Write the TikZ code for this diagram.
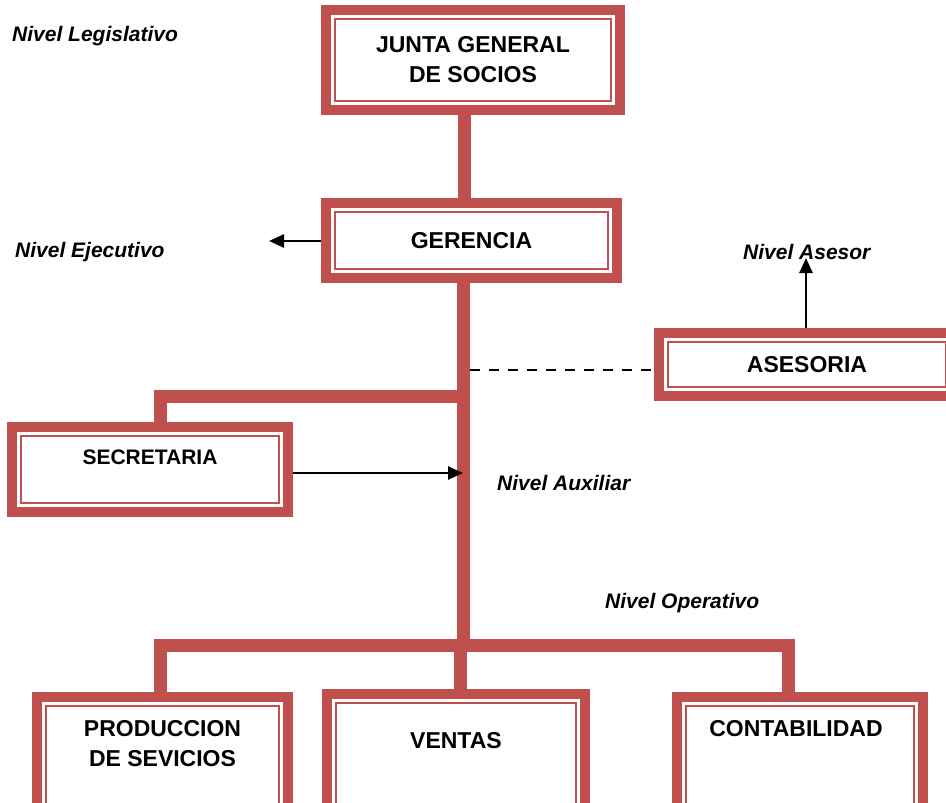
\documentclass[tikz,border=0pt]{standalone}
\usepackage{fontspec}
\setmainfont{Liberation Sans}
\usepackage{tikz}
\usetikzlibrary{arrows.meta,calc,positioning}
\definecolor{boxred}{RGB}{192,80,77}

\begin{document}
\begin{tikzpicture}[x=1pt,y=-1pt,
    box/.style={draw=boxred,line width=9.5pt,fill=white,inner sep=0pt,align=center,
      font=\fontsize{23}{30}\selectfont\bfseries},
    boxtext/.style={inner sep=0pt,align=center,font=\fontsize{23}{30}\selectfont\bfseries},
    inline/.style={draw=boxred,line width=2pt},
    trunk/.style={draw=boxred,line width=13pt},
    nivel/.style={anchor=west,inner sep=0pt,font=\fontsize{21}{25}\selectfont\bfseries\itshape},
    flecha/.style={line width=2.6pt,-{Triangle[length=15pt,width=13pt]}}]
    \useasboundingbox (0,0) rectangle (946,803);
    % cajas
    \node[box,minimum width=294,minimum height=100] (junta) at (473,60) {JUNTA GENERAL\\DE SOCIOS};
    \node[box,minimum width=291,minimum height=75] (ger) at (471.5,240.5) {GERENCIA};
    \node[box,minimum width=296,minimum height=63] (ases) at (807,364.5) {ASESORIA};
    \node[box,minimum width=276,minimum height=85,
      label={[boxtext,yshift=12.5pt,font=\fontsize{21}{25}\selectfont\bfseries]center:SECRETARIA}] (sec) at (150,469.5) {};
    \node[box,minimum width=251,minimum height=118,
      label={[boxtext,yshift=12pt]center:PRODUCCION\\DE SEVICIOS}] (prod) at (162.5,756) {};
    \node[box,minimum width=258,minimum height=121,
      label={[boxtext,yshift=14pt]center:VENTAS}] (ven) at (456,754.5) {};
    \node[box,minimum width=246,minimum height=118,
      label={[boxtext,yshift=27pt,xshift=-4pt]center:CONTABILIDAD}] (cont) at (800,756) {};
    \foreach \n in {junta,ger,ases,sec,prod,ven,cont}
      \draw[inline] ([shift={(13.5pt,-13.5pt)}]\n.north west) rectangle ([shift={(-13.5pt,13.5pt)}]\n.south east);
    % lineas
    \coordinate (t) at (464,0);
    \coordinate (barra) at (463.5,645);
    \draw[trunk] (junta.south -| t) -- (ger.north -| t);
    \draw[trunk] (ger.south -| barra) -- (barra);
    \draw[trunk,line join=miter] (463.5,396.5) -- (160,396.5) -- (sec.north -| 160,0);
    \draw[trunk,line join=miter] (prod.north -| 160,0) -- (160,645) -- (788,645) -- (cont.north -| 788,0);
    \draw[trunk] (460,645) -- (ven.north -| 460,0);
    \draw[line width=2.4pt,dash pattern=on 10pt off 9pt] (470,370) -- (ases.west |- 0,370);
    % flechas
    \coordinate (ejec) at (269,241);
    \coordinate (asesor) at (806,258);
    \coordinate (aux) at (463,473);
    \draw[flecha] (ger.west |- ejec) -- (ejec);
    \draw[flecha] (ases.north -| asesor) -- (asesor);
    \draw[flecha] (sec.east |- aux) -- (aux);
    % niveles
    \node[nivel] (legis) at (12,36) {Nivel Legislativo};
    \node[nivel] (ejecutivo) at (15,252) {Nivel Ejecutivo};
    \node[nivel] (asesorlbl) at (743,252) {Nivel Asesor};
    \node[nivel] (auxlbl) at (497,483) {Nivel Auxiliar};
    \node[nivel] (oper) at (605,603) {Nivel Operativo};
\end{tikzpicture}
\end{document}
